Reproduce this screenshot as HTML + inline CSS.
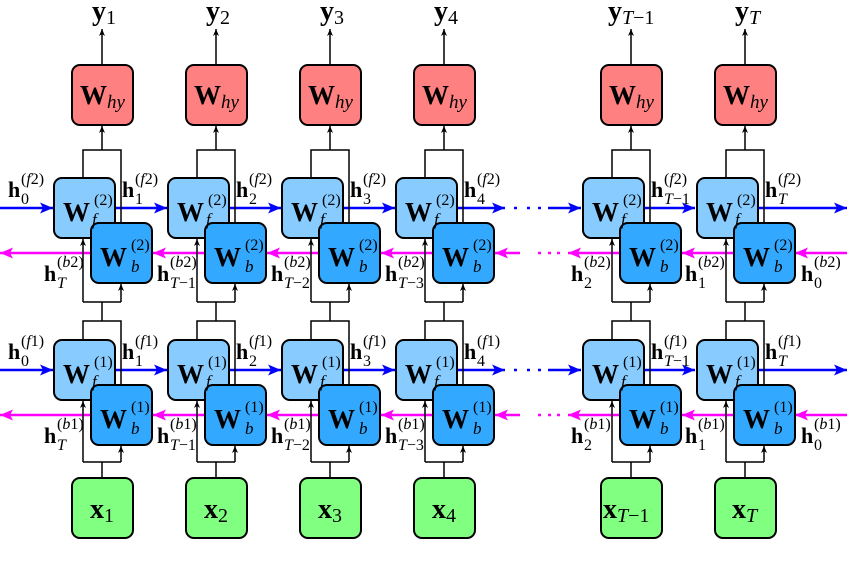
<!DOCTYPE html>
<html><head><meta charset="utf-8"><style>
html,body{margin:0;padding:0;background:#fff;}
svg{display:block;}
text{font-family:"Liberation Serif",serif;fill:#000;}
.B{font-weight:bold;font-size:28px;}
.W{font-weight:bold;font-size:27px;}
.s{font-size:17px;font-style:italic;}
.h{font-weight:bold;font-size:22px;}
.t{font-size:16px;}
.k{fill:none;stroke:#000;stroke-width:1.5;}
.bl{stroke:#0000ff;stroke-width:2.5;fill:none;}
.mg{stroke:#ff00ff;stroke-width:2.5;fill:none;}
</style></head><body>
<svg width="847" height="564" viewBox="0 0 847 564" xmlns="http://www.w3.org/2000/svg">
<defs>
<marker id="ak" markerWidth="8" markerHeight="8" refX="7" refY="4" orient="auto" markerUnits="userSpaceOnUse"><path d="M0,1 L7,4 L0,7 L2,4z" fill="#000"/></marker>
<marker id="ab" markerWidth="14" markerHeight="12" refX="13" refY="6" orient="auto" markerUnits="userSpaceOnUse"><path d="M0,0.5 L13,6 L0,11.5 L3,6z" fill="#0000ff"/></marker>
<marker id="am" markerWidth="14" markerHeight="12" refX="13" refY="6" orient="auto" markerUnits="userSpaceOnUse"><path d="M0,0.5 L13,6 L0,11.5 L3,6z" fill="#ff00ff"/></marker>
<g id="col" class="k">
<path d="M0,65 V29" marker-end="url(#ak)"/>
<path d="M0,150 V126" marker-end="url(#ak)"/>
<path d="M-19,178 V150 H19 V223"/>
<path d="M-19,302 V239" marker-end="url(#ak)"/>
<path d="M19,302 V284" marker-end="url(#ak)"/>
<path d="M-19,340 V321 H19 V385 M0,321 V302 M-19,302 H19"/>
<path d="M-19,462 V401" marker-end="url(#ak)"/>
<path d="M19,462 V446" marker-end="url(#ak)"/>
<path d="M-19,462 H19 M0,462 V478"/>
</g>
<g id="box">
<rect x="-30" y="65" width="61" height="60" rx="8" fill="#ff8080" stroke="#000" stroke-width="2"/>
<rect x="-48" y="178" width="61" height="60" rx="8" fill="#88ccff" stroke="#000" stroke-width="2"/>
<rect x="-11" y="223" width="61" height="60" rx="8" fill="#33a8ff" stroke="#000" stroke-width="2"/>
<rect x="-48" y="340" width="61" height="60" rx="8" fill="#88ccff" stroke="#000" stroke-width="2"/>
<rect x="-11" y="385" width="61" height="60" rx="8" fill="#33a8ff" stroke="#000" stroke-width="2"/>
<rect x="-30" y="478" width="61" height="60" rx="8" fill="#80ff80" stroke="#000" stroke-width="2"/>
</g>
<g id="bh">
<path class="bl" d="M0,0 H53" marker-end="url(#ab)"/>
<path class="bl" d="M114,0 H167" marker-end="url(#ab)"/>
<path class="bl" d="M228,0 H281" marker-end="url(#ab)"/>
<path class="bl" d="M342,0 H395" marker-end="url(#ab)"/>
<path class="bl" d="M456,0 H505" marker-end="url(#ab)"/>
<path class="bl" d="M548,0 H581" marker-end="url(#ab)"/>
<path class="bl" d="M643,0 H695" marker-end="url(#ab)"/>
<path class="bl" d="M757,0 H847" marker-end="url(#ab)"/>
<path class="bl" d="M514,0h3M527,0h3M538,0h3"/>
</g>
<g id="mh">
<path class="mg" d="M91,0 H0" marker-end="url(#am)"/>
<path class="mg" d="M205,0 H153" marker-end="url(#am)"/>
<path class="mg" d="M319,0 H267" marker-end="url(#am)"/>
<path class="mg" d="M433,0 H381" marker-end="url(#am)"/>
<path class="mg" d="M520,0 H495" marker-end="url(#am)"/>
<path class="mg" d="M620,0 H568" marker-end="url(#am)"/>
<path class="mg" d="M733,0 H682" marker-end="url(#am)"/>
<path class="mg" d="M847,0 H795" marker-end="url(#am)"/>
<path class="mg" d="M538,0h3M548,0h3M557,0h3"/>
</g>
<g id="wt">
<text x="63" y="221" class="W">W</text><text x="94" y="205" class="t">(2)</text><text x="92" y="225" class="s">f</text>
<text x="100" y="266" class="W">W</text><text x="131" y="250" class="t">(2)</text><text x="131" y="272" class="s">b</text>
<text x="63" y="383" class="W">W</text><text x="94" y="367" class="t">(1)</text><text x="92" y="387" class="s">f</text>
<text x="100" y="428" class="W">W</text><text x="131" y="412" class="t">(1)</text><text x="131" y="434" class="s">b</text>
</g>
</defs>

<use href="#bh" y="208"/><use href="#bh" y="370"/>
<use href="#mh" y="253"/><use href="#mh" y="415"/>

<use href="#col" x="102"/><use href="#col" x="216"/><use href="#col" x="330"/><use href="#col" x="444"/><use href="#col" x="631"/><use href="#col" x="745"/>
<use href="#box" x="102"/><use href="#box" x="216"/><use href="#box" x="330"/><use href="#box" x="444"/><use href="#box" x="631"/><use href="#box" x="745"/>

<use href="#wt"/><use href="#wt" x="114"/><use href="#wt" x="228"/><use href="#wt" x="342"/><use href="#wt" x="529"/><use href="#wt" x="643"/>

<text x="92" y="20" class="B">y<tspan dy="4" style="font-size:20px;font-weight:normal">1</tspan></text>
<text x="206" y="20" class="B">y<tspan dy="4" style="font-size:20px;font-weight:normal">2</tspan></text>
<text x="320" y="20" class="B">y<tspan dy="4" style="font-size:20px;font-weight:normal">3</tspan></text>
<text x="434" y="20" class="B">y<tspan dy="4" style="font-size:20px;font-weight:normal">4</tspan></text>
<text x="608" y="20" class="B">y<tspan dy="4" style="font-size:20px;font-style:italic;font-weight:normal">T</tspan><tspan style="font-size:20px;font-weight:normal">−1</tspan></text>
<text x="735" y="20" class="B">y<tspan dy="4" style="font-size:20px;font-style:italic;font-weight:normal">T</tspan></text>

<text x="80" y="104" class="W">W<tspan dy="4" style="font-size:19px;font-style:italic;font-weight:normal">hy</tspan></text>
<text x="194" y="104" class="W">W<tspan dy="4" style="font-size:19px;font-style:italic;font-weight:normal">hy</tspan></text>
<text x="308" y="104" class="W">W<tspan dy="4" style="font-size:19px;font-style:italic;font-weight:normal">hy</tspan></text>
<text x="422" y="104" class="W">W<tspan dy="4" style="font-size:19px;font-style:italic;font-weight:normal">hy</tspan></text>
<text x="609" y="104" class="W">W<tspan dy="4" style="font-size:19px;font-style:italic;font-weight:normal">hy</tspan></text>
<text x="723" y="104" class="W">W<tspan dy="4" style="font-size:19px;font-style:italic;font-weight:normal">hy</tspan></text>

<text x="90" y="518" class="B">x<tspan dy="4" style="font-size:20px;font-weight:normal">1</tspan></text>
<text x="204" y="518" class="B">x<tspan dy="4" style="font-size:20px;font-weight:normal">2</tspan></text>
<text x="318" y="518" class="B">x<tspan dy="4" style="font-size:20px;font-weight:normal">3</tspan></text>
<text x="432" y="518" class="B">x<tspan dy="4" style="font-size:20px;font-weight:normal">4</tspan></text>
<text x="603" y="518" class="B">x<tspan dy="4" style="font-size:20px;font-style:italic;font-weight:normal">T</tspan><tspan style="font-size:20px;font-weight:normal">−1</tspan></text>
<text x="732" y="518" class="B">x<tspan dy="4" style="font-size:20px;font-style:italic;font-weight:normal">T</tspan></text>

<g class="t">
<text x="8" y="197" class="h">h</text><text x="21" y="204" class="t">0</text><text x="21" y="184" class="t">(<tspan font-style="italic">f</tspan>2)</text>
<text x="122" y="197" class="h">h</text><text x="135" y="204" class="t">1</text><text x="135" y="184" class="t">(<tspan font-style="italic">f</tspan>2)</text>
<text x="236" y="197" class="h">h</text><text x="249" y="204" class="t">2</text><text x="249" y="184" class="t">(<tspan font-style="italic">f</tspan>2)</text>
<text x="350" y="197" class="h">h</text><text x="363" y="204" class="t">3</text><text x="363" y="184" class="t">(<tspan font-style="italic">f</tspan>2)</text>
<text x="464" y="197" class="h">h</text><text x="477" y="204" class="t">4</text><text x="477" y="184" class="t">(<tspan font-style="italic">f</tspan>2)</text>
<text x="651" y="197" class="h">h</text><text x="664" y="204" class="t"><tspan font-style="italic">T</tspan>−1</text><text x="664" y="184" class="t">(<tspan font-style="italic">f</tspan>2)</text>
<text x="765" y="197" class="h">h</text><text x="778" y="204" class="t" font-style="italic">T</text><text x="778" y="184" class="t">(<tspan font-style="italic">f</tspan>2)</text>

<text x="8" y="359" class="h">h</text><text x="21" y="366" class="t">0</text><text x="21" y="346" class="t">(<tspan font-style="italic">f</tspan>1)</text>
<text x="122" y="359" class="h">h</text><text x="135" y="366" class="t">1</text><text x="135" y="346" class="t">(<tspan font-style="italic">f</tspan>1)</text>
<text x="236" y="359" class="h">h</text><text x="249" y="366" class="t">2</text><text x="249" y="346" class="t">(<tspan font-style="italic">f</tspan>1)</text>
<text x="350" y="359" class="h">h</text><text x="363" y="366" class="t">3</text><text x="363" y="346" class="t">(<tspan font-style="italic">f</tspan>1)</text>
<text x="464" y="359" class="h">h</text><text x="477" y="366" class="t">4</text><text x="477" y="346" class="t">(<tspan font-style="italic">f</tspan>1)</text>
<text x="651" y="359" class="h">h</text><text x="664" y="366" class="t"><tspan font-style="italic">T</tspan>−1</text><text x="664" y="346" class="t">(<tspan font-style="italic">f</tspan>1)</text>
<text x="765" y="359" class="h">h</text><text x="778" y="366" class="t" font-style="italic">T</text><text x="778" y="346" class="t">(<tspan font-style="italic">f</tspan>1)</text>

<text x="44" y="281" class="h">h</text><text x="57" y="288" class="t" font-style="italic">T</text><text x="57" y="267" class="t">(<tspan font-style="italic">b</tspan>2)</text>
<text x="157" y="281" class="h">h</text><text x="170" y="288" class="t"><tspan font-style="italic">T</tspan>−1</text><text x="170" y="267" class="t">(<tspan font-style="italic">b</tspan>2)</text>
<text x="271" y="281" class="h">h</text><text x="284" y="288" class="t"><tspan font-style="italic">T</tspan>−2</text><text x="284" y="267" class="t">(<tspan font-style="italic">b</tspan>2)</text>
<text x="385" y="281" class="h">h</text><text x="398" y="288" class="t"><tspan font-style="italic">T</tspan>−3</text><text x="398" y="267" class="t">(<tspan font-style="italic">b</tspan>2)</text>
<text x="571" y="281" class="h">h</text><text x="584" y="288" class="t">2</text><text x="584" y="267" class="t">(<tspan font-style="italic">b</tspan>2)</text>
<text x="685" y="281" class="h">h</text><text x="698" y="288" class="t">1</text><text x="698" y="267" class="t">(<tspan font-style="italic">b</tspan>2)</text>
<text x="801" y="281" class="h">h</text><text x="814" y="288" class="t">0</text><text x="814" y="267" class="t">(<tspan font-style="italic">b</tspan>2)</text>

<text x="44" y="443" class="h">h</text><text x="57" y="450" class="t" font-style="italic">T</text><text x="57" y="429" class="t">(<tspan font-style="italic">b</tspan>1)</text>
<text x="157" y="443" class="h">h</text><text x="170" y="450" class="t"><tspan font-style="italic">T</tspan>−1</text><text x="170" y="429" class="t">(<tspan font-style="italic">b</tspan>1)</text>
<text x="271" y="443" class="h">h</text><text x="284" y="450" class="t"><tspan font-style="italic">T</tspan>−2</text><text x="284" y="429" class="t">(<tspan font-style="italic">b</tspan>1)</text>
<text x="385" y="443" class="h">h</text><text x="398" y="450" class="t"><tspan font-style="italic">T</tspan>−3</text><text x="398" y="429" class="t">(<tspan font-style="italic">b</tspan>1)</text>
<text x="571" y="443" class="h">h</text><text x="584" y="450" class="t">2</text><text x="584" y="429" class="t">(<tspan font-style="italic">b</tspan>1)</text>
<text x="685" y="443" class="h">h</text><text x="698" y="450" class="t">1</text><text x="698" y="429" class="t">(<tspan font-style="italic">b</tspan>1)</text>
<text x="801" y="443" class="h">h</text><text x="814" y="450" class="t">0</text><text x="814" y="429" class="t">(<tspan font-style="italic">b</tspan>1)</text>
</g>
</svg>
</body></html>
